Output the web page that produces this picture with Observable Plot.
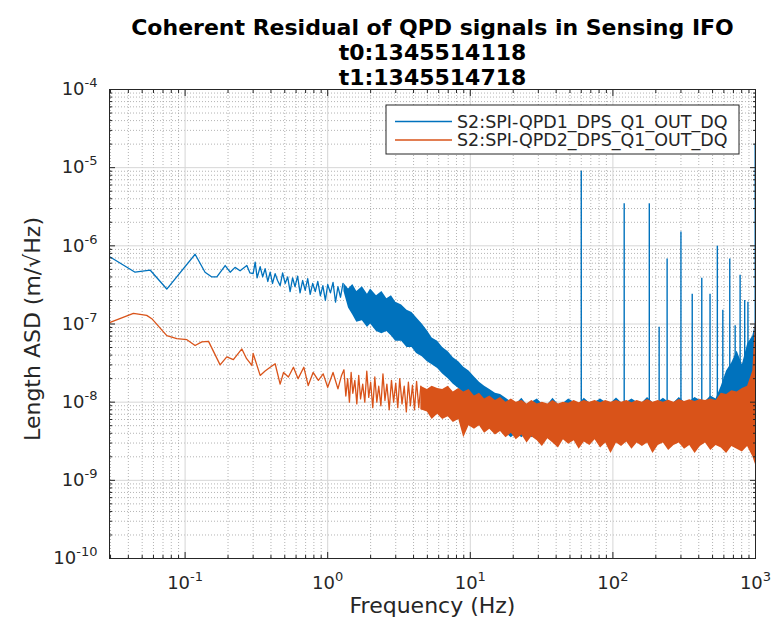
<!DOCTYPE html>
<html><head><meta charset="utf-8">
<script src="https://cdn.jsdelivr.net/npm/d3@7"></script>
<script src="https://cdn.jsdelivr.net/npm/@observablehq/plot@0.6"></script>
<style>body{margin:0;background:#fff;} svg{display:block;}</style>
</head><body><div id="chart"></div>
<script>
// ---------- text ----------
const titleLines = ["Coherent Residual of QPD signals in Sensing IFO", "t0:1345514118", "t1:1345514718"];
const xLabel = "Frequency (Hz)";
const yLabel = "Length ASD (m/\u221AHz)";
const seriesNames = ["S2:SPI-QPD1_DPS_Q1_OUT_DQ", "S2:SPI-QPD2_DPS_Q1_OUT_DQ"];
const seriesColors = ["#0072BD", "#D95319"];

// ---------- axes ----------
const xDomain = [0.0295, 1000];
const yDomain = [1e-10, 1e-4];
const xTicks = [0.1, 1, 10, 100, 1000];
const xTickLabels = ["10^-1", "10^0", "10^1", "10^2", "10^3"];
const yTicks = [1e-10, 1e-9, 1e-8, 1e-7, 1e-6, 1e-5, 1e-4];
const yTickLabels = ["10^-10", "10^-9", "10^-8", "10^-7", "10^-6", "10^-5", "10^-4"];

// ---------- QPD1 (blue): low-frequency single trace ----------
const qpd1Freq = [0.0298, 0.0446, 0.0568, 0.0744, 0.1175, 0.138, 0.154, 0.167, 0.191, 0.207, 0.224, 0.243, 0.271, 0.285, 0.30, 0.31, 0.32, 0.336, 0.35, 0.364, 0.38, 0.395, 0.41, 0.428, 0.445, 0.464, 0.483, 0.503, 0.524, 0.545, 0.567, 0.59, 0.615, 0.64, 0.667, 0.695, 0.724, 0.754, 0.785, 0.818, 0.852, 0.888, 0.925, 0.963, 1.0, 1.045, 1.09, 1.135, 1.18, 1.23, 1.28];
const qpd1Asd  = [7.2e-7, 4.6e-7, 4.9e-7, 2.8e-7, 7.8e-7, 4.6e-7, 4.0e-7, 4.0e-7, 5.6e-7, 4.6e-7, 5.3e-7, 4.8e-7, 5.6e-7, 4.5e-7, 4.4e-7, 6.2e-7, 3.9e-7, 5.4e-7, 4.0e-7, 5.1e-7, 3.5e-7, 4.6e-7, 3.3e-7, 4.4e-7, 3.6e-7, 3.1e-7, 4.5e-7, 3.3e-7, 4.0e-7, 2.6e-7, 3.9e-7, 3.0e-7, 4.1e-7, 2.5e-7, 3.6e-7, 2.7e-7, 3.8e-7, 2.4e-7, 3.3e-7, 2.6e-7, 3.5e-7, 2.3e-7, 3.1e-7, 2.0e-7, 3.2e-7, 2.5e-7, 3.4e-7, 1.9e-7, 3.0e-7, 2.2e-7, 3.3e-7];

// ---------- QPD2 (orange): single trace up to ~4.5 Hz ----------
const qpd2Freq = [0.0298, 0.0434, 0.0538, 0.0584, 0.0744, 0.0875, 0.103, 0.1175, 0.131, 0.146, 0.176, 0.196, 0.218, 0.25, 0.27, 0.294, 0.30, 0.336, 0.364, 0.395, 0.428, 0.464, 0.49, 0.53, 0.575, 0.62, 0.68, 0.73, 0.79, 0.86, 0.93, 1.0, 1.09, 1.18, 1.25,
  1.3, 1.34, 1.38, 1.42, 1.46, 1.5, 1.55, 1.6, 1.65, 1.7, 1.76, 1.82, 1.88, 1.94, 2.0, 2.07, 2.14, 2.21, 2.28, 2.36, 2.44, 2.52, 2.6, 2.7, 2.8, 2.9, 3.0, 3.1, 3.2, 3.32, 3.44, 3.56, 3.68, 3.8, 3.93, 4.06, 4.2, 4.35, 4.5];
const qpd2Asd  = [1.05e-7, 1.37e-7, 1.29e-7, 1.17e-7, 7.1e-8, 6.5e-8, 6.3e-8, 5.3e-8, 5.9e-8, 6.0e-8, 3.0e-8, 3.8e-8, 3.5e-8, 4.8e-8, 3.6e-8, 2.95e-8, 4.2e-8, 2.2e-8, 2.5e-8, 2.8e-8, 3.1e-8, 1.7e-8, 2.4e-8, 2.1e-8, 2.8e-8, 2.0e-8, 2.8e-8, 1.63e-8, 2.4e-8, 1.9e-8, 2.3e-8, 1.55e-8, 2.4e-8, 1.48e-8, 2.2e-8,
  2.6e-8, 1.2e-8, 2.0e-8, 1.0e-8, 2.4e-8, 1.3e-8, 1.9e-8, 0.95e-8, 2.2e-8, 1.1e-8, 1.7e-8, 1.0e-8, 2.5e-8, 1.15e-8, 1.8e-8, 0.85e-8, 2.1e-8, 1.0e-8, 1.6e-8, 0.9e-8, 2.3e-8, 1.05e-8, 1.7e-8, 0.8e-8, 1.9e-8, 1.0e-8, 1.75e-8, 0.85e-8, 2.0e-8, 0.95e-8, 1.6e-8, 0.75e-8, 1.8e-8, 0.9e-8, 1.65e-8, 0.8e-8, 1.85e-8, 0.85e-8, 1.6e-8];

// ---------- QPD1 dense region (>1.3 Hz): envelope of the noisy trace ----------
const qpd1BandFreq = [1.3, 1.4, 1.5, 1.6, 1.75, 1.9, 2.0, 2.2, 2.4, 2.6, 2.8, 3.0, 3.3, 3.6, 3.9, 4.2, 4.6, 5.0, 5.4, 5.9, 6.4, 7.0, 7.6, 8.3, 9.0, 9.8, 10.7, 11.6, 12.6, 13.7, 15, 16.3, 17.8, 19.4, 21, 23, 25, 27, 29.5, 32, 35, 38, 41.5, 45, 49, 53.5, 58, 63, 69, 75, 82, 89, 97, 106, 115, 125, 136, 148, 161, 175, 191, 208, 226, 246, 268, 292, 318, 346, 377, 410, 446, 486, 529, 576, 627, 683, 743, 809, 880, 958, 1000];
const qpd1BandHigh = [3.3e-7, 2.8e-7, 3.2e-7, 2.6e-7, 3.0e-7, 2.4e-7, 2.8e-7, 2.3e-7, 2.6e-7, 2.1e-7, 2.3e-7, 1.9e-7, 1.75e-7, 1.5e-7, 1.4e-7, 1.2e-7, 1.0e-7, 8.2e-8, 6.6e-8, 6.0e-8, 5.0e-8, 4.4e-8, 3.7e-8, 3.3e-8, 2.8e-8, 2.5e-8, 2.1e-8, 1.8e-8, 1.6e-8, 1.45e-8, 1.3e-8, 1.25e-8, 1.12e-8, 1.0e-8, 0.95e-8, 1.12e-8, 0.92e-8, 1.0e-8, 1.1e-8, 0.95e-8, 0.93e-8, 1.12e-8, 0.93e-8, 0.97e-8, 1.1e-8, 1.0e-8, 0.95e-8, 1.12e-8, 0.97e-8, 1.0e-8, 1.1e-8, 1.0e-8, 0.97e-8, 1.13e-8, 0.98e-8, 1.0e-8, 1.1e-8, 1.0e-8, 0.98e-8, 1.15e-8, 0.98e-8, 1.0e-8, 1.12e-8, 1.0e-8, 0.98e-8, 1.15e-8, 1.0e-8, 1.02e-8, 1.15e-8, 1.05e-8, 1.02e-8, 1.2e-8, 1.1e-8, 1.6e-8, 2.5e-8, 3.2e-8, 4.5e-8, 3.0e-8, 5.5e-8, 7.0e-8, 1.0e-7];
const qpd1BandLow  = [2.6e-7, 1.6e-7, 1.3e-7, 1.05e-7, 1.1e-7, 9.0e-8, 1.0e-7, 8.0e-8, 7.5e-8, 8.0e-8, 7.0e-8, 6.0e-8, 6.0e-8, 5.0e-8, 5.0e-8, 4.2e-8, 3.8e-8, 3.3e-8, 3.0e-8, 2.7e-8, 2.3e-8, 2.0e-8, 1.7e-8, 1.5e-8, 1.3e-8, 1.2e-8, 1.0e-8, 9.0e-9, 8.0e-9, 7.0e-9, 6.0e-9, 5.5e-9, 4.0e-9, 3.5e-9, 4.0e-9, 3.5e-9, 4.0e-9, 3.5e-9, 4.0e-9, 3.5e-9, 4.0e-9, 3.5e-9, 4.0e-9, 3.5e-9, 4.0e-9, 3.5e-9, 4.0e-9, 3.5e-9, 4.0e-9, 3.5e-9, 4.0e-9, 3.5e-9, 4.0e-9, 3.5e-9, 4.0e-9, 3.5e-9, 4.0e-9, 3.5e-9, 4.0e-9, 3.5e-9, 4.0e-9, 3.5e-9, 4.0e-9, 3.5e-9, 4.0e-9, 3.5e-9, 4.0e-9, 3.5e-9, 4.0e-9, 3.5e-9, 4.0e-9, 3.5e-9, 4.0e-9, 3.5e-9, 4.0e-9, 3.5e-9, 4.0e-9, 3.5e-9, 4.0e-9, 3.5e-9, 4.0e-9];

// ---------- QPD2 dense region (>4.5 Hz): envelope of the noisy trace ----------
const qpd2BandFreq = [4.5, 5.0, 5.4, 5.9, 6.4, 7.0, 7.6, 8.3, 9.0, 9.8, 10.7, 11.6, 12.6, 13.7, 15, 16.3, 17.8, 19.4, 21, 23, 25, 27, 29.5, 32, 35, 38, 41.5, 45, 49, 53.5, 58, 63, 69, 75, 82, 89, 97, 106, 115, 125, 136, 148, 161, 175, 191, 208, 226, 246, 268, 292, 318, 346, 377, 410, 446, 486, 529, 576, 627, 683, 743, 809, 880, 958, 1000];
const qpd2BandHigh = [1.6e-8, 1.45e-8, 1.6e-8, 1.5e-8, 1.45e-8, 1.6e-8, 1.35e-8, 1.5e-8, 1.35e-8, 1.45e-8, 1.2e-8, 1.3e-8, 1.1e-8, 1.2e-8, 1.05e-8, 1.15e-8, 1.0e-8, 1.1e-8, 1.0e-8, 1.05e-8, 0.95e-8, 1.05e-8, 0.95e-8, 1.0e-8, 0.95e-8, 1.05e-8, 0.95e-8, 1.0e-8, 0.97e-8, 1.05e-8, 0.98e-8, 1.05e-8, 1.0e-8, 1.05e-8, 0.98e-8, 1.05e-8, 1.0e-8, 1.05e-8, 1.0e-8, 1.05e-8, 0.98e-8, 1.05e-8, 1.0e-8, 1.08e-8, 1.0e-8, 1.05e-8, 1.0e-8, 1.06e-8, 1.0e-8, 1.08e-8, 1.02e-8, 1.07e-8, 1.02e-8, 1.08e-8, 1.05e-8, 1.1e-8, 1.05e-8, 1.3e-8, 1.25e-8, 1.4e-8, 1.35e-8, 1.5e-8, 1.6e-8, 2.5e-8, 1.1e-7];
const qpd2BandLow  = [0.8e-8, 0.75e-8, 0.6e-8, 0.7e-8, 0.6e-8, 0.65e-8, 0.55e-8, 0.6e-8, 0.35e-8, 0.5e-8, 0.45e-8, 0.5e-8, 0.4e-8, 0.45e-8, 0.38e-8, 0.42e-8, 0.35e-8, 0.4e-8, 0.33e-8, 0.38e-8, 0.3e-8, 0.36e-8, 0.32e-8, 0.27e-8, 0.34e-8, 0.3e-8, 0.26e-8, 0.33e-8, 0.29e-8, 0.32e-8, 0.25e-8, 0.31e-8, 0.28e-8, 0.33e-8, 0.26e-8, 0.3e-8, 0.22e-8, 0.3e-8, 0.27e-8, 0.31e-8, 0.25e-8, 0.3e-8, 0.27e-8, 0.3e-8, 0.22e-8, 0.28e-8, 0.3e-8, 0.24e-8, 0.28e-8, 0.3e-8, 0.25e-8, 0.28e-8, 0.22e-8, 0.27e-8, 0.3e-8, 0.24e-8, 0.28e-8, 0.26e-8, 0.22e-8, 0.27e-8, 0.25e-8, 0.23e-8, 0.27e-8, 0.2e-8, 0.16e-8];

// ---------- QPD1 narrow lines (spikes) ----------
const qpd1LineFreq = [60, 120, 180, 211, 240, 300, 360, 420, 480, 540, 590, 660, 720, 780, 840, 885, 995];
const qpd1LinePeak = [9.0e-6, 3.45e-6, 3.45e-6, 9.1e-8, 6.8e-7, 1.5e-6, 2.4e-7, 3.85e-7, 2.4e-7, 9.9e-7, 1.5e-7, 6.8e-7, 9.5e-8, 4.2e-7, 2.0e-7, 1.9e-7, 2.0e-5];
const qpd1LineBase = [1.0e-8, 1.0e-8, 1.0e-8, 1.0e-8, 1.0e-8, 1.0e-8, 1.0e-8, 1.0e-8, 1.0e-8, 1.0e-8, 1.0e-8, 1.0e-8, 1.0e-8, 1.0e-8, 1.0e-8, 1.0e-8, 1.0e-8];

// ---------- build tables ----------
const qpd1Trace = qpd1Freq.map((f, i) => ({f, v: qpd1Asd[i]}));
const qpd2Trace = qpd2Freq.map((f, i) => ({f, v: qpd2Asd[i]}));
const band1 = qpd1BandFreq.map((f, i) => ({f, lo: qpd1BandLow[i], hi: qpd1BandHigh[i]}));
const band2 = qpd2BandFreq.map((f, i) => ({f, lo: qpd2BandLow[i], hi: qpd2BandHigh[i]}));
const spikes = qpd1LineFreq.map((f, i) => ({f, lo: qpd1LineBase[i], hi: qpd1LinePeak[i]}));

const minorX = [];
for (let e = -2; e <= 2; e++) for (let m = 2; m <= 9; m++) { const v = m * Math.pow(10, e); if (v > xDomain[0] && v < xDomain[1]) minorX.push(v); }
const minorY = [];
for (let e = -10; e <= -5; e++) for (let m = 2; m <= 9; m++) { const v = m * Math.pow(10, e); if (v > yDomain[0] && v < yDomain[1]) minorY.push(v); }

const W = 782, H = 626;
const M = {top: 89, right: 27, bottom: 68, left: 109};
const ink = "#262626";
const FONT = "'DejaVu Sans', sans-serif";
const [blue, orange] = seriesColors;

const svg = Plot.plot({
  width: W, height: H,
  marginTop: M.top, marginRight: M.right, marginBottom: M.bottom, marginLeft: M.left,
  x: {type: "log", domain: xDomain},
  y: {type: "log", domain: yDomain},
  style: {fontFamily: FONT, fontSize: "18px", color: ink, background: "#fff", overflow: "visible"},
  marks: [
    Plot.gridX(minorX, {stroke: "#9a9a9a", strokeOpacity: 0.75, strokeDasharray: "1,2"}),
    Plot.gridY(minorY, {stroke: "#9a9a9a", strokeOpacity: 0.75, strokeDasharray: "1,2"}),
    Plot.gridX(xTicks, {stroke: "#d6d6d6", strokeOpacity: 1}),
    Plot.gridY(yTicks, {stroke: "#d6d6d6", strokeOpacity: 1}),
    // QPD1
    Plot.ruleX(spikes, {x: "f", y1: "lo", y2: "hi", stroke: blue, strokeWidth: 1.4}),
    Plot.areaY(band1, {x: "f", y1: "lo", y2: "hi", fill: blue}),
    Plot.lineY(qpd1Trace, {x: "f", y: "v", stroke: blue, strokeWidth: 1.3}),
    // QPD2
    Plot.areaY(band2, {x: "f", y1: "lo", y2: "hi", fill: orange}),
    Plot.lineY(qpd2Trace, {x: "f", y: "v", stroke: orange, strokeWidth: 1.3}),
    // frame and inward ticks
    Plot.frame({stroke: ink, strokeWidth: 1}),
    Plot.axisX(xTicks, {anchor: "bottom", tickSize: -6, fill: "none", stroke: ink, label: null}),
    Plot.axisX(xTicks, {anchor: "top", tickSize: -6, fill: "none", stroke: ink, label: null}),
    Plot.axisX(minorX, {anchor: "bottom", tickSize: -3, fill: "none", stroke: ink, label: null}),
    Plot.axisX(minorX, {anchor: "top", tickSize: -3, fill: "none", stroke: ink, label: null}),
    Plot.axisY(yTicks, {anchor: "left", tickSize: -6, fill: "none", stroke: ink, label: null}),
    Plot.axisY(yTicks, {anchor: "right", tickSize: -6, fill: "none", stroke: ink, label: null}),
    Plot.axisY(minorY, {anchor: "left", tickSize: -3, fill: "none", stroke: ink, label: null}),
    Plot.axisY(minorY, {anchor: "right", tickSize: -3, fill: "none", stroke: ink, label: null}),
    // tick labels
    Plot.axisX(xTicks, {anchor: "bottom", tickSize: 0, tickPadding: 18, fontSize: 18, label: null,
      tickFormat: d => xTickLabels[xTicks.indexOf(d)]}),
    Plot.axisY(yTicks, {anchor: "left", tickSize: 0, tickPadding: 12, fontSize: 18, label: null,
      tickFormat: d => yTickLabels[yTicks.indexOf(d)]}),
    // axis labels
    Plot.text([xLabel], {frameAnchor: "bottom", dy: 54, fontSize: 22, fill: ink}),
    Plot.text([yLabel], {frameAnchor: "left", textAnchor: "middle", dx: -77, dy: 5, rotate: -90, fontSize: 22, fill: ink}),
    // title
    Plot.text([titleLines[0]], {frameAnchor: "top", dy: -70, fontSize: 22, fontWeight: "bold", fill: "#000"}),
    Plot.text([titleLines[1]], {frameAnchor: "top", dy: -45, fontSize: 22, fontWeight: "bold", fill: "#000"}),
    Plot.text([titleLines[2]], {frameAnchor: "top", dy: -20, fontSize: 22, fontWeight: "bold", fill: "#000"})
  ]
});

// superscript exponents in tick labels
d3.select(svg).selectAll("text").each(function () {
  const t = this.textContent;
  if (t.includes("^")) {
    const [base, exp] = t.split("^");
    const s = d3.select(this);
    s.text(null);
    s.append("tspan").text(base);
    s.append("tspan").attr("dy", "-8").attr("font-size", "13px").text(exp);
  }
});

// legend (top-right inside the axes)
const lg = d3.select(svg).append("g").attr("font-family", FONT).attr("font-size", "17.5px").attr("text-anchor", "start");
const lgRight = W - M.right - 16, lgTop = M.top + 16, lgW = 353, rowH = 18.5;
lg.append("rect").attr("x", lgRight - lgW).attr("y", lgTop).attr("width", lgW).attr("height", 49)
  .attr("fill", "#fff").attr("stroke", ink).attr("stroke-width", 1);
seriesNames.forEach((name, i) => {
  const yy = lgTop + 16.5 + i * rowH;
  lg.append("line").attr("x1", lgRight - lgW + 9).attr("x2", lgRight - lgW + 66).attr("y1", yy).attr("y2", yy)
    .attr("stroke", seriesColors[i]).attr("stroke-width", 1.4);
  lg.append("text").attr("x", lgRight - lgW + 71).attr("y", yy).attr("dy", "0.35em")
    .attr("text-anchor", "start").attr("fill", ink).text(name);
});

document.getElementById("chart").appendChild(svg);
</script>
</body></html>
